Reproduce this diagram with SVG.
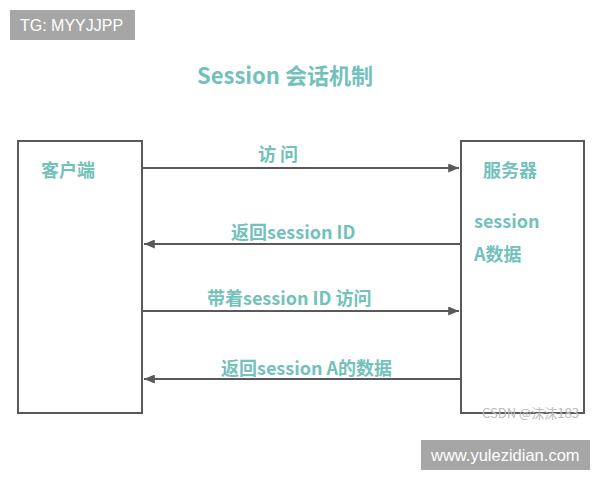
<svg xmlns="http://www.w3.org/2000/svg" width="600" height="480" viewBox="0 0 600 480">
<defs>
<style>
.box{fill:#fff;stroke:#595959;stroke-width:2}
.ln{stroke:#595959;stroke-width:2;fill:none}
.t{font-family:"Noto Sans CJK SC","Open Sans",sans-serif;font-weight:bold;fill:#72c1bb;font-size:18px}
.wm{fill:#a6a6a6}
.wt{font-family:"Liberation Sans",Arial,sans-serif;fill:#fff;font-size:16px}
</style>
<marker id="ah" viewBox="0 0 12 10" refX="12" refY="5" markerWidth="12" markerHeight="9" markerUnits="userSpaceOnUse" orient="auto"><path d="M0,0 L12,5 L0,10 z" fill="#595959"/></marker>
</defs>
<rect width="600" height="480" fill="#fff"/>
<g id="wm1"><rect class="wm" x="10" y="10" width="125" height="30"/><text class="wt" x="20" y="31">TG: MYYJJPP</text></g>
<text class="t" x="285" y="84" text-anchor="middle" style="font-size:22px">Session 会话机制</text>
<g id="client"><rect class="box" x="18" y="141" width="124" height="272"/><text class="t" x="41" y="177">客户端</text></g>
<g id="server"><rect class="box" x="461" y="141" width="123" height="272"/><text class="t" x="483" y="177">服务器</text><text class="t" x="474" y="228">session</text><text class="t" x="474" y="261">A数据</text></g>
<g id="connectors">
<line class="ln" x1="142" y1="168" x2="459" y2="168" marker-end="url(#ah)"/>
<line class="ln" x1="461" y1="244" x2="144" y2="244" marker-end="url(#ah)"/>
<line class="ln" x1="142" y1="311" x2="459" y2="311" marker-end="url(#ah)"/>
<line class="ln" x1="461" y1="379" x2="144" y2="379" marker-end="url(#ah)"/>
<text class="t" x="258" y="161">访 问</text>
<text class="t" x="231" y="239">返回session ID</text>
<text class="t" x="207" y="305">带着session ID 访问</text>
<text class="t" x="221" y="375">返回session A的数据</text>
</g>
<text x="482" y="418" font-family="Noto Sans CJK SC,Liberation Sans,sans-serif" font-size="13" fill="#bbb">CSDN @沫沫183</text>
<g id="wm2"><rect class="wm" x="421" y="440" width="169" height="30"/><text class="wt" x="431" y="461" style="font-size:16.5px">www.yulezidian.com</text></g>
</svg>
